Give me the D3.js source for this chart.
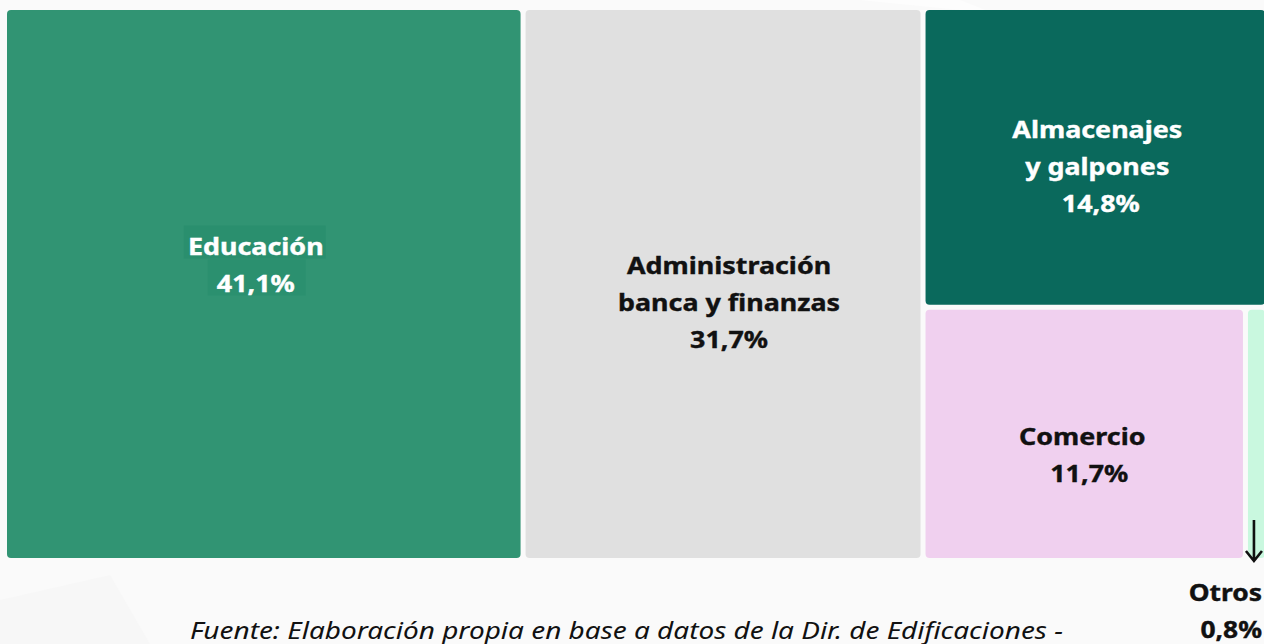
<!DOCTYPE html>
<html>
<head>
<meta charset="utf-8">
<script src="https://cdn.jsdelivr.net/npm/d3@7"></script>
<style>
  html, body { margin: 0; padding: 0; background: #fafafa; }
  svg { display: block; }
  text { font-family: "Noto Sans", "Open Sans", sans-serif; white-space: pre; }
</style>
</head>
<body>
<script>
// data
var categories = ["Educación", "Administración banca y finanzas", "Almacenajes y galpones", "Comercio", "Otros"];
var shares = [41.1, 31.7, 14.8, 11.7, 0.8];
var labelLines = [
  ["Educación", "41,1%"],
  ["Administración", "banca y finanzas", "31,7%"],
  ["Almacenajes", "y galpones", " 14,8%"],
  ["Comercio", "  11,7%"],
  ["Otros", "0,8%"]
];
var fills = ["#319473", "#e0e0e0", "#0a695c", "#f0d0ef", "#c9f8df"];
var textFill = ["#ffffff", "#111111", "#ffffff", "#111111", "#111111"];
// where the label block sits inside its box (fraction of height, px shift in x)
var labelAt = [0.48, 0.55, 0.56, 0.62, null];
var labelDx = [-8, 6, 2, -2, 0];

var width = 1264, height = 644;
var margin = {top: 10, left: 7};
var tmW = 1258, tmH = 548;
var stretch = 1.12; // text in the picture is drawn wide

var svg = d3.select("body").append("svg")
  .attr("width", width)
  .attr("height", height);

// faint background shapes
svg.append("path")
  .attr("d", "M0,600 L110,575 L150,644 L0,644 Z")
  .attr("fill", "#f7f7f7");
svg.append("path")
  .attr("d", "M860,0 L960,0 L1264,120 L1264,40 Z")
  .attr("fill", "#fdfdfd");

// hierarchy: two big columns, then a column split top/bottom, bottom split left/right
var tree = {name: "root", children: [
  {name: categories[0], i: 0, value: shares[0]},
  {name: categories[1], i: 1, value: shares[1]},
  {name: "resto", children: [
    {name: categories[2], i: 2, value: shares[2]},
    {name: "abajo", children: [
      {name: categories[3], i: 3, value: shares[3]},
      {name: categories[4], i: 4, value: shares[4]}
    ]}
  ]}
]};

var root = d3.hierarchy(tree).sum(function(d) { return d.children ? 0 : d.value; });

d3.treemap()
  .tile(d3.treemapSliceDice)
  .size([tmW, tmH])
  .paddingInner(5)
  (root);

var g = svg.append("g")
  .attr("transform", "translate(" + margin.left + "," + margin.top + ")");

var leaves = root.leaves();

g.selectAll("rect.cell")
  .data(leaves)
  .enter()
  .append("rect")
  .attr("class", "cell")
  .attr("x", function(d) { return d.x0; })
  .attr("y", function(d) { return d.y0; })
  .attr("width", function(d) { return d.x1 - d.x0; })
  .attr("height", function(d) { return d.y1 - d.y0; })
  .attr("rx", 4)
  .attr("fill", function(d) { return fills[d.data.i]; });

var lineH = 37;

function wideText(parent, x, y, lines, opts) {
  var t = parent.append("text")
    .attr("transform", "translate(" + x + "," + y + ") scale(" + opts.sx + ",1)")
    .attr("text-anchor", opts.anchor || "middle")
    .attr("font-size", opts.size)
    .attr("font-weight", opts.weight || "normal")
    .attr("font-style", opts.style || "normal")
    .attr("fill", opts.fill);
  if (opts.stroke) {
    t.attr("stroke", opts.fill).attr("stroke-width", opts.stroke);
  }
  t.selectAll("tspan")
    .data(lines)
    .enter()
    .append("tspan")
    .attr("x", 0)
    .attr("y", function(s, k) { return k * (opts.lineH || 0); })
    .text(function(s) { return s; });
  return t;
}

leaves.forEach(function(d) {
  var i = d.data.i;
  if (labelAt[i] == null) return;
  var lines = labelLines[i];
  var cx = (d.x0 + d.x1) / 2 + labelDx[i];
  var cy = d.y0 + (d.y1 - d.y0) * labelAt[i];
  var first = cy - (lines.length - 1) * lineH / 2;

  // the education label has a slightly darker box behind each line
  if (i === 0) {
    g.append("rect")
      .attr("x", cx - 72).attr("y", first - 29)
      .attr("width", 142).attr("height", 33)
      .attr("fill", "#2a8f6e");
    g.append("rect")
      .attr("x", cx - 48).attr("y", first + 5)
      .attr("width", 98).attr("height", 36)
      .attr("fill", "#2b906f");
  }

  wideText(g, cx, first, lines, {
    sx: stretch, size: 24, weight: "bold", fill: textFill[i], lineH: lineH, stroke: 0.4
  });
});

// small slice: arrow and label below the box
var otros = leaves.filter(function(d) { return d.data.i === 4; })[0];
var ax = margin.left + otros.x0 + 6;
var ay = margin.top + otros.y1;

svg.append("path")
  .attr("d", "M" + ax + "," + (ay - 38) + " L" + ax + "," + (ay + 3) +
             " M" + (ax - 8) + "," + (ay - 7) + " L" + ax + "," + (ay + 3) + " L" + (ax + 8) + "," + (ay - 7))
  .attr("fill", "none")
  .attr("stroke", "#111")
  .attr("stroke-width", 2.6);

wideText(svg, 1262, 601, labelLines[4], {
  sx: 1.1, size: 24, weight: "bold", fill: "#111", anchor: "end", lineH: 37, stroke: 0.4
});

// source note
wideText(svg, 190, 639, ["Fuente: Elaboración propia en base a datos de la Dir. de Edificaciones -"], {
  sx: 1.165, size: 24, style: "italic", fill: "#111", anchor: "start"
});
</script>
</body>
</html>
